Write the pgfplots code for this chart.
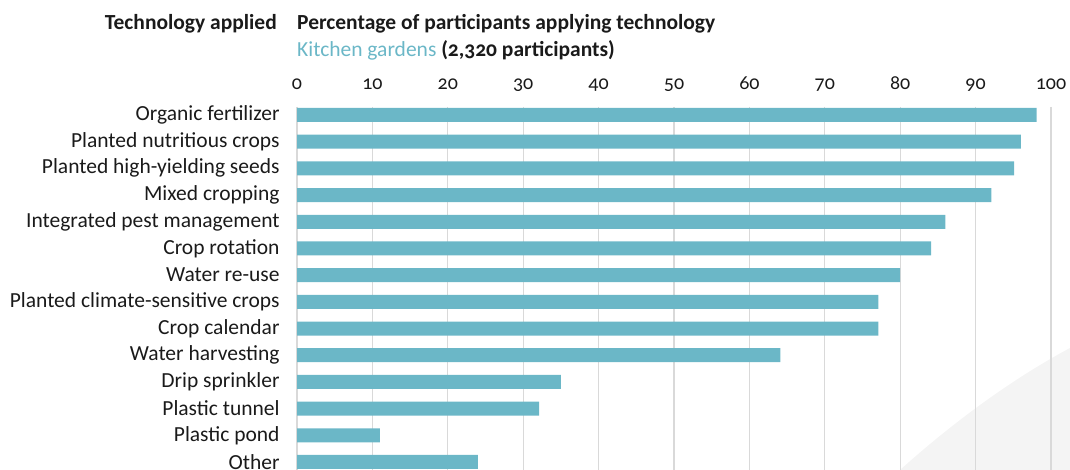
\documentclass[border=0pt]{standalone}
\usepackage{pgfplots}
\pgfplotsset{compat=1.18}
\usepackage{fontspec}
\setmainfont{Carlito}[Numbers=OldStyle]
\definecolor{barc}{HTML}{6BB7C7}
\definecolor{gridc}{HTML}{D9D9D9}
\definecolor{txt}{HTML}{1A1A1A}
\definecolor{deco}{HTML}{F4F4F4}
\begin{document}
\begin{tikzpicture}[x=1bp,y=1bp]
\useasboundingbox (0,0) rectangle (1070,470);
\fill[deco] (900,0) .. controls (950,45) and (1010,90) .. (1070,122) -- (1070,0) -- cycle;
\node[anchor=base east, font=\fontsize{21.5bp}{23bp}\selectfont\bfseries, text=txt, inner sep=0pt] at (277,440) {Technology applied};
\node[anchor=base west, font=\fontsize{21.5bp}{23bp}\selectfont\bfseries, text=txt, inner sep=0pt] at (297,440) {Percentage of participants applying technology};
\node[anchor=base west, font=\fontsize{21.5bp}{23bp}\selectfont, text=txt, inner sep=0pt] at (297,413) {\textcolor{barc}{Kitchen gardens} \textbf{(2,320 participants)}};
\begin{axis}[
  at={(297bp,0bp)}, anchor=south west,
  scale only axis, width=754bp, height=363bp,
  xmin=0, xmax=100, ymin=-0.3, ymax=13.3, y dir=reverse,
  xbar, bar width=14bp,
  axis line style={draw=none},
  tick style={draw=none},
  xtick={0,10,...,100},
  xticklabel pos=upper,
  /pgf/number format/assume math mode=true,
  xmajorgrids, grid style={gridc, line width=1.3bp},
  xticklabel style={font=\fontsize{20bp}{22bp}\selectfont, text=txt, anchor=base, inner sep=0pt, yshift=17bp},
  ytick={0,...,13},
  yticklabels={Organic fertilizer, Planted nutritious crops, Planted high-yielding seeds, Mixed cropping, Integrated pest management, Crop rotation, Water re-use, Planted climate-sensitive crops, Crop calendar, Water harvesting, Drip sprinkler, Plastic tunnel, Plastic pond, Other},
  yticklabel style={font=\fontsize{21.5bp}{23bp}\selectfont, text=txt, anchor=east, inner sep=0pt, xshift=-13bp},
]
\addplot[fill=barc, draw=none] table[x=v, y=i] {
i v
0 98.1
1 96.0
2 95.1
3 92.1
4 86.0
5 84.1
6 80.0
7 77.1
8 77.1
9 64.1
10 35.0
11 32.1
12 11.0
13 24.0
};
\end{axis}
\end{tikzpicture}
\end{document}
